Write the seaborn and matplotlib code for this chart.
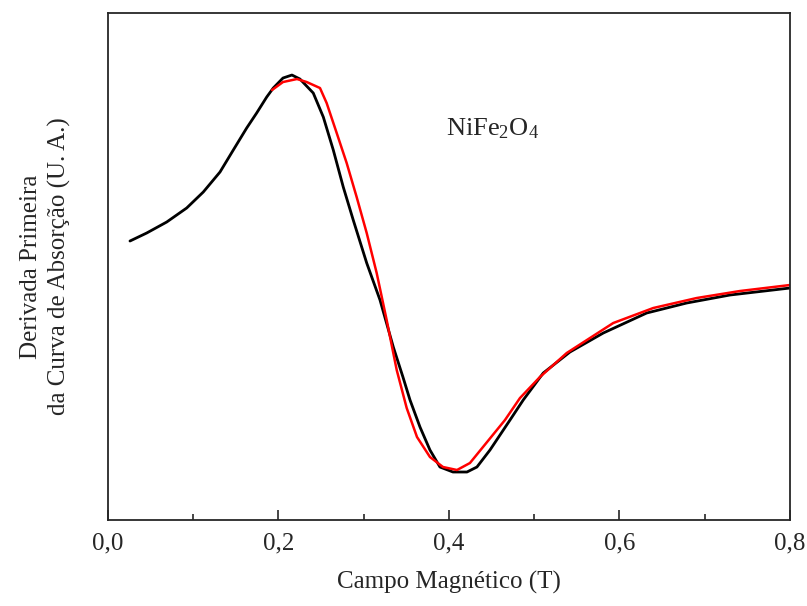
import numpy as np
import pandas as pd
import matplotlib
matplotlib.use("Agg")
import matplotlib.pyplot as plt
import seaborn as sns

# curva experimental (preta)
campo_exp = [0.0258, 0.0454, 0.0689, 0.0923, 0.1118, 0.1314, 0.1470, 0.1627, 0.1744,
             0.1862, 0.1939, 0.2053, 0.2158, 0.2252, 0.2408, 0.2526, 0.2643, 0.2760,
             0.2877, 0.3035, 0.3191, 0.3347, 0.3460, 0.3543, 0.3660, 0.3777, 0.3894,
             0.4047, 0.4211, 0.4328, 0.4481, 0.4716, 0.4871, 0.5106, 0.5419, 0.5810,
             0.6319, 0.6788, 0.7296, 0.8000]
deriv_exp = [2.79, 2.87, 2.98, 3.12, 3.28, 3.48, 3.70, 3.92, 4.07,
             4.23, 4.32, 4.42, 4.45, 4.41, 4.27, 4.03, 3.70, 3.33,
             3.00, 2.57, 2.20, 1.73, 1.43, 1.20, 0.93, 0.70, 0.53,
             0.48, 0.48, 0.53, 0.70, 1.00, 1.20, 1.47, 1.68, 1.87,
             2.07, 2.17, 2.25, 2.32]

# ajuste (vermelha)
campo_fit = [0.1924, 0.2053, 0.2217, 0.2331, 0.2487, 0.2565, 0.2683, 0.2800, 0.2917,
             0.3035, 0.3152, 0.3269, 0.3387, 0.3504, 0.3625, 0.3777, 0.3930, 0.4094,
             0.4246, 0.4399, 0.4657, 0.4833, 0.5067, 0.5381, 0.5927, 0.6396, 0.6906,
             0.7413, 0.8000]
deriv_fit = [4.30, 4.38, 4.41, 4.38, 4.32, 4.17, 3.87, 3.57, 3.23,
             2.87, 2.47, 2.00, 1.50, 1.12, 0.83, 0.63, 0.53, 0.50,
             0.57, 0.73, 1.00, 1.22, 1.43, 1.67, 1.97, 2.12, 2.22,
             2.29, 2.35]

xticks = [0.0, 0.2, 0.4, 0.6, 0.8]
xticklabels = ["0,0", "0,2", "0,4", "0,6", "0,8"]

sns.set_style("ticks")
plt.rcParams["font.family"] = ["Liberation Serif", "DejaVu Serif"]
plt.rcParams["mathtext.fontset"] = "custom"
plt.rcParams["mathtext.rm"] = "Liberation Serif"
plt.rcParams["mathtext.it"] = "Liberation Serif:italic"

df_exp = pd.DataFrame({"campo": campo_exp, "deriv": deriv_exp})
df_fit = pd.DataFrame({"campo": campo_fit, "deriv": deriv_fit})

fig = plt.figure(figsize=(8.07, 6.06), dpi=100)
ax = fig.add_axes([0.1338, 0.1419, 0.8451, 0.8366])

sns.lineplot(data=df_exp, x="campo", y="deriv", sort=False, estimator=None,
             color="black", linewidth=2.0, ax=ax)
sns.lineplot(data=df_fit, x="campo", y="deriv", sort=False, estimator=None,
             color="red", linewidth=1.8, ax=ax)

ax.set_xlim(0, 0.8)
ax.set_ylim(0, 5.07)
ax.set_xticks(xticks)
ax.set_xticklabels(xticklabels)
ax.set_xticks([0.1, 0.3, 0.5, 0.7], minor=True)
ax.set_yticks([])
ax.tick_params(axis="x", which="major", direction="in", length=7, width=1.2,
               labelsize=18, pad=9)
ax.tick_params(axis="x", which="minor", direction="in", length=4, width=1.2)
for s in ax.spines.values():
    s.set_linewidth(1.3)

ax.set_xlabel("Campo Magnético (T)", fontsize=18)
ax.set_ylabel("Derivada Primeira\nda Curva de Absorção (U. A.)", fontsize=18,
              linespacing=1.35)
ax.xaxis.set_label_coords(0.5, -0.10)
ax.yaxis.set_label_coords(-0.054, 0.5)

ax.text(0.396, 3.85, r"NiFe$_2$O$_4$", fontsize=19, va="baseline")

fig.savefig("out.png", dpi=100)
